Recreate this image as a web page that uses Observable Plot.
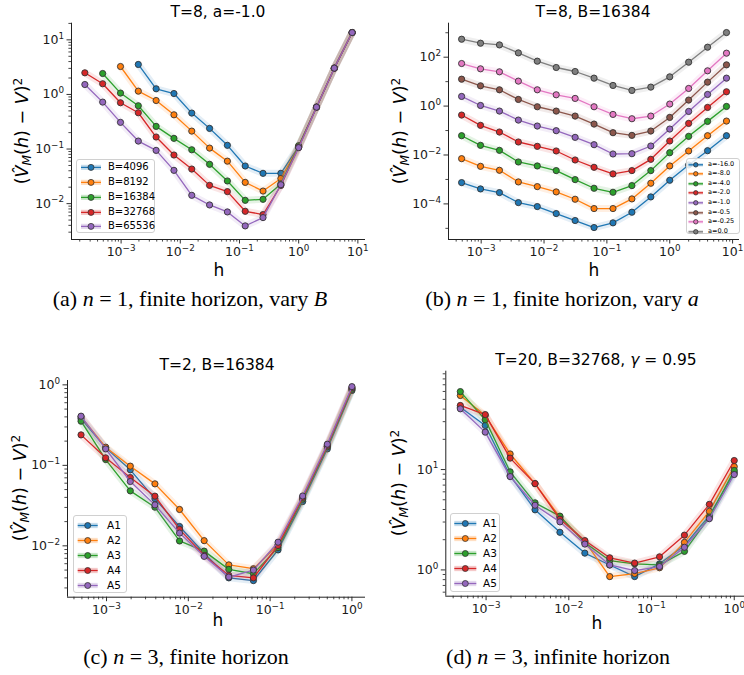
<!DOCTYPE html>
<html><head><meta charset="utf-8">
<script src="https://cdn.jsdelivr.net/npm/d3@7"></script>
<script src="https://cdn.jsdelivr.net/npm/@observablehq/plot@0.6"></script>
<style>
body{margin:0;background:#fff;}
#fig{position:relative;width:744px;height:675px;overflow:hidden;font-family:"DejaVu Sans";color:#000;background:#fff}
.abs{position:absolute;white-space:nowrap;line-height:1}
.title{font-size:15.5px;transform:translate(-50%,-50%)}
.xlab{font-size:17px;transform:translate(-50%,-50%)}
.ylab{font-size:17.5px;transform:translate(-50%,-50%) rotate(-90deg)}
.ylab sub{font-size:0.7em;vertical-align:-0.25em}
.ylab sup{font-size:0.7em;vertical-align:0.5em}
.cap{font-family:"Liberation Serif";font-size:22px;transform:translate(-50%,-50%)}
.legend{position:absolute;border:1px solid #d0d0d0;border-radius:3px;background:rgba(255,255,255,0.85);box-sizing:border-box}
.lrow{position:absolute;left:0;white-space:nowrap}
</style></head><body><div id="fig"></div>
<script>
// ---------------- data ----------------
const hA = [0.00024414, 0.00048828, 0.00097656, 0.0019531, 0.0039063, 0.0078125, 0.015625, 0.03125, 0.0625, 0.125, 0.25, 0.5, 1, 2, 4, 8];
const hB = [0.00048828, 0.00097656, 0.0019531, 0.0039063, 0.0078125, 0.015625, 0.03125, 0.0625, 0.125, 0.25, 0.5, 1, 2, 4, 8];
const hC = [0.00048828, 0.00097656, 0.0019531, 0.0039063, 0.0078125, 0.015625, 0.03125, 0.0625, 0.125, 0.25, 0.5, 1];

// (a) vary B
const namesA = ["B=4096", "B=8192", "B=16384", "B=32768", "B=65536"];
const a_B4096  = [null, null, null, 3.54, 1.27, 1.04, 0.456, 0.239, 0.117, 0.0489, 0.0359, 0.0359, 0.112, 0.585, 3.03, 13.6];
const a_B8192  = [null, null, 3.25, 1.15, 0.774, 0.424, 0.213, 0.104, 0.060, 0.0245, 0.017, 0.0288, 0.110, 0.585, 3.03, 13.6];
const a_B16384 = [null, 2.42, 1.06, 0.621, 0.26, 0.157, 0.097, 0.0525, 0.026, 0.0115, 0.012, 0.023, 0.115, 0.585, 3.03, 13.6];
const a_B32768 = [2.49, 1.57, 0.705, 0.462, 0.166, 0.0777, 0.043, 0.0216, 0.0166, 0.00724, 0.0063, 0.0215, 0.108, 0.585, 3.03, 13.6];
const a_B65536 = [1.52, 0.724, 0.308, 0.14, 0.0945, 0.0407, 0.0142, 0.00946, 0.00705, 0.00391, 0.00555, 0.0222, 0.106, 0.585, 3.03, 13.6];

// (b) vary a
const namesB = ["a=-16.0", "a=-8.0", "a=-4.0", "a=-2.0", "a=-1.0", "a=-0.5", "a=-0.25", "a=0.0"];
const b_a16  = [0.000743, 0.000409, 0.00029, 0.000113, 0.0000778, 0.0000403, 0.0000209, 0.0000108, 0.0000168, 0.0000457, 0.000193, 0.000925, 0.00391, 0.015, 0.0615];
const b_a8   = [0.00708, 0.00344, 0.00237, 0.000791, 0.000509, 0.000309, 0.000155, 0.0000645, 0.0000645, 0.00016, 0.000698, 0.00356, 0.0146, 0.0615, 0.244];
const b_a4   = [0.0615, 0.0248, 0.0155, 0.00518, 0.00356, 0.0023, 0.000984, 0.000436, 0.000299, 0.00056, 0.0023, 0.0124, 0.0578, 0.237, 0.968];
const b_a2   = [0.43, 0.163, 0.0869, 0.034, 0.0226, 0.0146, 0.00625, 0.00314, 0.00168, 0.0023, 0.00665, 0.0373, 0.196, 0.883, 3.85];
const b_a1   = [2.48, 1.06, 0.625, 0.268, 0.153, 0.0985, 0.0526, 0.0264, 0.011, 0.0113, 0.0233, 0.115, 0.605, 2.99, 13.9];
const b_a05  = [12.6, 6.76, 4.64, 1.87, 0.94, 0.625, 0.391, 0.184, 0.0816, 0.0635, 0.0955, 0.344, 1.76, 9.55, 48.6];
const b_a025 = [55.1, 33.4, 25.2, 10.5, 4.64, 2.9, 2.06, 0.94, 0.457, 0.304, 0.391, 1.21, 5.26, 27.7, 146];
const b_a0   = [543, 373, 318, 150, 68.7, 37.9, 26, 13.9, 6.98, 4.36, 5.97, 15.7, 62.5, 256, 1016];

// (c) n=3 finite horizon
const namesC = ["A1", "A2", "A3", "A4", "A5"];
const c_A1 = [0.38, 0.165, 0.088, 0.0384, 0.0174, 0.0081, 0.0040, 0.0037, 0.0089, 0.0355, 0.160, 0.85];
const c_A2 = [0.40, 0.168, 0.0977, 0.0589, 0.0283, 0.0116, 0.0058, 0.0052, 0.0103, 0.039, 0.172, 0.90];
const c_A3 = [0.354, 0.118, 0.0482, 0.0302, 0.0115, 0.0086, 0.0051, 0.0045, 0.0095, 0.038, 0.170, 0.88];
const c_A4 = [0.239, 0.124, 0.0706, 0.0414, 0.016, 0.0076, 0.0043, 0.0040, 0.0101, 0.040, 0.177, 0.92];
const c_A5 = [0.408, 0.16, 0.063, 0.0323, 0.0144, 0.0074, 0.0041, 0.0050, 0.0111, 0.0416, 0.183, 0.95];

// (d) n=3 infinite horizon
const d_A1 = [41.8, 27.5, 8.7, 3.97, 2.37, 1.47, 1.12, 0.858, 1.15, 1.75, 3.48, 9.3];
const d_A2 = [54.7, 34.5, 14.3, 7.24, 3.35, 1.92, 0.858, 0.92, 1.05, 1.88, 3.84, 10.7];
const d_A3 = [59.8, 31.3, 9.49, 4.66, 3.43, 1.87, 1.24, 1.15, 1.12, 1.53, 3.35, 9.8];
const d_A4 = [43.5, 35.3, 13.0, 7.24, 3.2, 1.96, 1.32, 1.17, 1.35, 2.22, 4.5, 12.3];
const d_A5 = [40.3, 23.6, 8.51, 4.41, 3.01, 1.81, 1.12, 0.985, 1.08, 1.68, 3.24, 8.92];

// ticks (labels as base^exponent)
const xTicks5 = [1e-3, 1e-2, 1e-1, 1, 10];
const xLabels5 = ["10^−3", "10^−2", "10^−1", "10^0", "10^1"];
const xTicks4 = [1e-3, 1e-2, 1e-1, 1];
const xLabels4 = ["10^−3", "10^−2", "10^−1", "10^0"];
const yTicksA = [1e-2, 1e-1, 1, 10];
const yLabelsA = ["10^−2", "10^−1", "10^0", "10^1"];
const yTicksB = [1e-4, 1e-2, 1, 100];
const yLabelsB = ["10^−4", "10^−2", "10^0", "10^2"];
const yTicksC = [1e-2, 1e-1, 1];
const yLabelsC = ["10^−2", "10^−1", "10^0"];
const yTicksD = [1, 10];
const yLabelsD = ["10^0", "10^1"];

const tab10 = ["#1f77b4", "#ff7f0e", "#2ca02c", "#d62728", "#9467bd", "#8c564b", "#e377c2", "#7f7f7f"];

// ---------------- helpers ----------------
function minorTicks(lo, hi) {
  const out = [];
  for (let e = Math.floor(Math.log10(lo)); e <= Math.ceil(Math.log10(hi)); e++)
    for (let m = 2; m <= 9; m++) { const v = m * Math.pow(10, e); if (v >= lo && v <= hi) out.push(v); }
  return out;
}
function decadeTicks(lo, hi, skip) {
  const out = [];
  for (let e = Math.ceil(Math.log10(lo)); e <= Math.floor(Math.log10(hi)); e++) { const v = Math.pow(10, e); if (!skip.some(s => Math.abs(s - v) / v < 1e-9)) out.push(v); }
  return out;
}
const fig = document.getElementById("fig");
const svgNS = "http://www.w3.org/2000/svg";
function addDiv(cls, x, y, html) {
  const d = document.createElement("div");
  d.className = "abs " + cls; d.style.left = x + "px"; d.style.top = y + "px"; d.innerHTML = html;
  fig.appendChild(d); return d;
}
const ylabHTML = "(<i>V&#770;</i><sub><i>M</i></sub>(<i>h</i>) &minus; <i>V</i>)<sup>2</sup>";

function superscriptTicks(svg) {
  svg.querySelectorAll("text").forEach(t => {
    const m = t.textContent.match(/^(\d+)\^(.+)$/);
    if (!m) return;
    t.textContent = m[1];
    const ts = document.createElementNS(svgNS, "tspan");
    ts.setAttribute("font-size", "8.8");
    ts.setAttribute("dy", "-5.2");
    ts.textContent = m[2];
    t.appendChild(ts);
  });
}

function drawPanel(p) {
  const [x0, x1] = p.xDomain, [y0, y1] = p.yDomain;
  const marks = [];
  const xMinor = minorTicks(x0, x1);
  marks.push(Plot.axisX(xMinor, {anchor: "bottom", tickSize: 2.6, tickFormat: () => "", label: null, strokeWidth: 0.8}));
  marks.push(Plot.axisX(p.xTicks, {anchor: "bottom", tickSize: 4.5, tickPadding: 3.5, tickFormat: d => p.xLabels[p.xTicks.indexOf(d)], label: null, fontSize: 12.5, strokeWidth: 0.9}));
  const yMinor = p.yMinorDecades ? decadeTicks(y0, y1, p.yTicks) : minorTicks(y0, y1);
  marks.push(Plot.axisY(yMinor, {anchor: "left", tickSize: 2.6, tickFormat: () => "", label: null, strokeWidth: 0.8}));
  marks.push(Plot.axisY(p.yTicks, {anchor: "left", tickSize: 4.5, tickPadding: 3, tickFormat: d => p.yLabels[p.yTicks.indexOf(d)], label: null, fontSize: 12.5, strokeWidth: 0.9}));
  p.series.forEach((vals, si) => {
    const rows = p.h.map((h, i) => ({h, v: vals[i]})).filter(d => d.v != null);
    const c = p.colors[si];
    marks.push(Plot.line(rows, {x: "h", y: "v", stroke: c, strokeWidth: 7, strokeOpacity: 0.12}));
    marks.push(Plot.line(rows, {x: "h", y: "v", stroke: c, strokeWidth: 1.3}));
    marks.push(Plot.dot(rows, {x: "h", y: "v", fill: c, stroke: "#333", strokeWidth: 0.9, r: 3.1}));
  });
  marks.push(Plot.ruleX([x0], {stroke: "#222", strokeWidth: 1}));
  marks.push(Plot.ruleY([y0], {stroke: "#222", strokeWidth: 1}));
  const chart = Plot.plot({
    width: p.w, height: p.hgt,
    marginLeft: p.m[0], marginTop: p.m[1], marginRight: p.m[2], marginBottom: p.m[3],
    x: {type: "log", domain: p.xDomain},
    y: {type: "log", domain: p.yDomain},
    style: {fontFamily: "DejaVu Sans", fontSize: "12.5px", color: "#1a1a1a", background: "none", overflow: "visible"},
    marks
  });
  superscriptTicks(chart);
  const wrap = document.createElement("div");
  wrap.className = "abs"; wrap.style.left = p.left + "px"; wrap.style.top = p.top + "px";
  wrap.appendChild(chart); fig.appendChild(wrap);

  addDiv("title", p.title[1], p.title[2], p.title[0]);
  addDiv("xlab", p.xlab[0], p.xlab[1], "h");
  addDiv("ylab", p.ylab[0], p.ylab[1], ylabHTML);
  addDiv("cap", p.cap[1], p.cap[2], p.cap[0]);

  // legend
  const L = p.legend;
  const lg = document.createElement("div");
  lg.className = "legend";
  Object.assign(lg.style, {left: L.x + "px", top: L.y + "px", width: L.w + "px", height: L.h + "px"});
  p.names.forEach((nm, i) => {
    const row = document.createElement("div");
    row.className = "lrow";
    const cy = L.first + i * L.step;
    Object.assign(row.style, {top: (cy - L.step / 2) + "px", height: L.step + "px", width: "100%"});
    const c = p.colors[i];
    const svgW = L.lineEnd + 2;
    row.innerHTML = `<svg width="${svgW}" height="${L.step}" style="position:absolute;left:0;top:0">
      <line x1="${L.lineStart}" x2="${L.lineEnd}" y1="${L.step/2}" y2="${L.step/2}" stroke="${c}" stroke-opacity="0.25" stroke-width="${L.step*0.35}"/>
      <line x1="${L.lineStart}" x2="${L.lineEnd}" y1="${L.step/2}" y2="${L.step/2}" stroke="${c}" stroke-width="1.3"/>
      <circle cx="${(L.lineStart+L.lineEnd)/2}" cy="${L.step/2}" r="${L.r}" fill="${c}" stroke="#333" stroke-width="0.8"/></svg>
      <span style="position:absolute;left:${L.text}px;top:0;line-height:${L.step}px;font-size:${L.fs}px">${nm}</span>`;
    lg.appendChild(row);
  });
  fig.appendChild(lg);
}

// ---------------- panels ----------------
drawPanel({
  left: 0, top: 0, w: 372, hgt: 262, m: [71, 22.7, 7, 23],
  xDomain: [Math.pow(10, -3.838), Math.pow(10, 1.129)], yDomain: [Math.pow(10, -2.657), Math.pow(10, 1.305)],
  xTicks: xTicks5, xLabels: xLabels5, yTicks: yTicksA, yLabels: yLabelsA,
  h: hA, series: [a_B4096, a_B8192, a_B16384, a_B32768, a_B65536], colors: tab10.slice(0, 5), names: namesA,
  title: ["T=8, a=-1.0", 218, 12.5], xlab: [219, 270], ylab: [23, 131],
  cap: ["(a) <i>n</i> = 1, finite horizon, vary <i>B</i>", 190, 299],
  legend: {x: 76, y: 159, w: 79, h: 74, first: 7.5, step: 14.8, lineStart: 4, lineEnd: 24, r: 3, text: 31, fs: 10}
});
drawPanel({
  left: 372, top: 0, w: 372, hgt: 262, m: [76, 22.7, 5, 23],
  xDomain: [Math.pow(10, -3.52), Math.pow(10, 1.11)], yDomain: [Math.pow(10, -5.456), Math.pow(10, 3.39)],
  xTicks: xTicks5, xLabels: xLabels5, yTicks: yTicksB, yLabels: yLabelsB, yMinorDecades: true,
  h: hB, series: [b_a16, b_a8, b_a4, b_a2, b_a1, b_a05, b_a025, b_a0], colors: tab10, names: namesB,
  title: ["T=8, B=16384", 593, 12.5], xlab: [594, 270], ylab: [401, 131],
  cap: ["(b) <i>n</i> = 1, finite horizon, vary <i>a</i>", 562, 299],
  legend: {x: 685.5, y: 158, w: 54, h: 76, first: 5.3, step: 9.6, lineStart: 1.5, lineEnd: 16, r: 2.2, text: 21.5, fs: 6.5}
});
drawPanel({
  left: 0, top: 330, w: 372, hgt: 290, m: [67, 50, 7, 23.3],
  xDomain: [Math.pow(10, -3.477), Math.pow(10, 0.166)], yDomain: [Math.pow(10, -2.638), Math.pow(10, 0.054)],
  xTicks: xTicks4, xLabels: xLabels4, yTicks: yTicksC, yLabels: yLabelsC,
  h: hC, series: [c_A1, c_A2, c_A3, c_A4, c_A5], colors: tab10.slice(0, 5), names: namesC,
  title: ["T=2, B=16384", 217, 365.5], xlab: [218, 620], ylab: [21, 488],
  cap: ["(c) <i>n</i> = 3, finite horizon", 186, 657],
  legend: {x: 73.3, y: 515, w: 53.4, h: 77.7, first: 9.3, step: 15, lineStart: 3.7, lineEnd: 23.7, r: 3, text: 32.7, fs: 10.5}
});
drawPanel({
  left: 372, top: 330, w: 372, hgt: 290, m: [73.3, 40.7, 0, 24.3],
  xDomain: [Math.pow(10, -3.487), Math.pow(10, 0.124)], yDomain: [Math.pow(10, -0.262), Math.pow(10, 1.98)],
  xTicks: xTicks4, xLabels: xLabels4, yTicks: yTicksD, yLabels: yLabelsD,
  h: hC, series: [d_A1, d_A2, d_A3, d_A4, d_A5], colors: tab10.slice(0, 5), names: namesC,
  title: ["T=20, B=32768, <i>γ</i> = 0.95", 596, 361], xlab: [597, 623], ylab: [400, 483],
  cap: ["(d) <i>n</i> = 3, infinite horizon", 558, 657],
  legend: {x: 449.7, y: 513.3, w: 50, h: 78.4, first: 9, step: 15, lineStart: 3.3, lineEnd: 25.3, r: 3, text: 32.3, fs: 10.5}
});
</script></body></html>
